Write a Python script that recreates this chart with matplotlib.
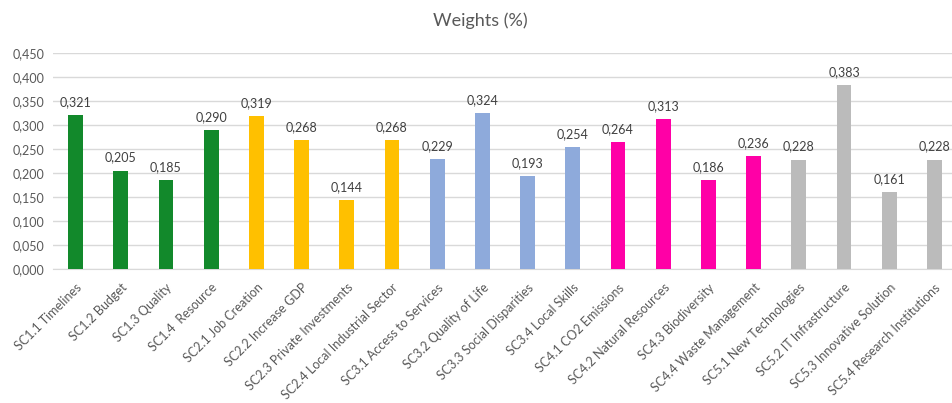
import numpy as np
import matplotlib.pyplot as plt

plt.rcParams['font.family'] = ['Lato', 'DejaVu Sans']

labels = ['SC1.1 Timelines', 'SC1.2 Budget', 'SC1.3 Quality', 'SC1.4  Resource',
          'SC2.1 Job Creation', 'SC2.2 Increase GDP', 'SC2.3 Private Investments',
          'SC2.4 Local Industrial Sector', 'SC3.1 Access to Services',
          'SC3.2 Quality of Life', 'SC3.3 Social Disparities', 'SC3.4 Local Skills',
          'SC4.1 CO2 Emissions', 'SC4.2 Natural Resources', 'SC4.3 Biodiversity',
          'SC4.4 Waste Management', 'SC5.1 New Technologies', 'SC5.2 IT Infrastructure',
          'SC5.3 Innovative Solution', 'SC5.4 Research Institutions']
weights = [0.321, 0.205, 0.185, 0.290,
           0.319, 0.268, 0.144, 0.268,
           0.229, 0.324, 0.193, 0.254,
           0.264, 0.313, 0.186, 0.236,
           0.228, 0.383, 0.161, 0.228]
group_colors = ['#12892B', '#FFC000', '#8EAADB', '#FF00A6', '#BBBBBB']
colors = [group_colors[i // 4] for i in range(len(weights))]

fig = plt.figure(figsize=(9.52, 4.03), dpi=100)
ax = fig.add_axes([53/952, 134/403, 904/952, 216/403])

x = np.arange(len(weights))
ax.bar(x, weights, width=0.33, color=colors, zorder=3)

for xi, v in zip(x, weights):
    ax.annotate(('%.3f' % v).replace('.', ','), (xi, v), xytext=(0, 5),
                textcoords='offset points', ha='center', va='bottom',
                fontsize=9, color='#404040')

ax.set_xlim(-0.5, len(weights) - 0.5)
ax.set_ylim(0, 0.45)
yt = np.arange(0, 0.451, 0.05)
ax.set_yticks(yt)
ax.set_yticklabels([('%.3f' % t).replace('.', ',') for t in yt])
ax.set_xticks(x)
ax.set_xticklabels(labels, rotation=45, ha='right', rotation_mode='anchor')
ax.tick_params(axis='both', length=0, labelsize=9, colors='#595959')
ax.tick_params(axis='x', pad=9)
ax.tick_params(axis='y', pad=6)

ax.grid(axis='y', color='#D9D9D9', linewidth=1, zorder=0)
for s in ['top', 'right', 'left']:
    ax.spines[s].set_visible(False)
ax.spines['bottom'].set_color('#D9D9D9')

fig.text(0.505, 0.948, 'Weights (%)', ha='center', va='center',
         fontsize=13, color='#595959')

fig.savefig('out.png', dpi=100)
